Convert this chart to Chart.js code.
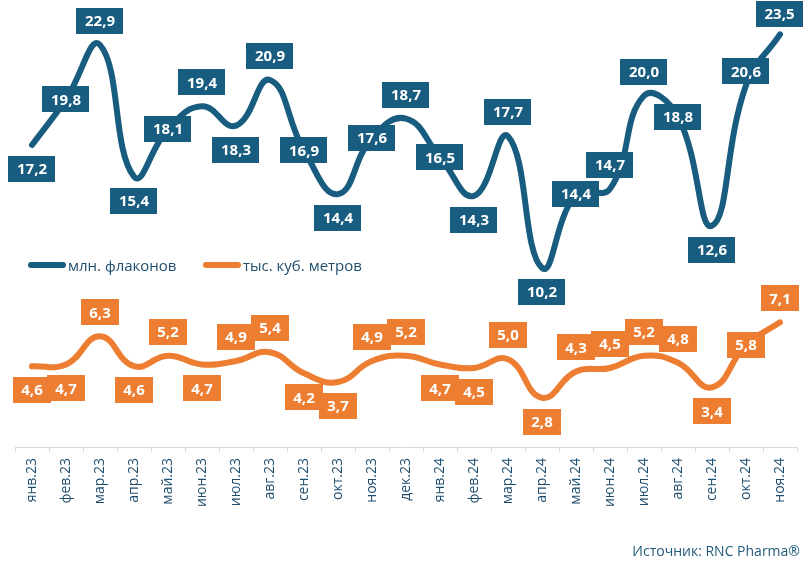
<!DOCTYPE html>
<html><head><meta charset="utf-8">
<script src="https://cdn.jsdelivr.net/npm/chart.js@4/dist/chart.umd.min.js"></script>
<style>
html,body{margin:0;padding:0;background:#fff;}
#wrap{position:relative;width:804px;height:566px;overflow:hidden;}
canvas{position:absolute;left:0;top:0;}
.leg{position:absolute;top:255px;font:15px 'Open Sans',sans-serif;color:#1f4e6e;display:flex;align-items:center;white-space:nowrap;}
.sw{display:inline-block;width:38px;height:6px;border-radius:3px;margin-right:2px;}
#src{position:absolute;right:4px;top:541px;font:14px 'Open Sans',sans-serif;color:#1f5a7a;white-space:nowrap;}
</style></head>
<body><div id="wrap"><canvas id="c" width="804" height="566"></canvas>
<div class="leg" id="leg1" style="left:28px"><span class="sw" style="background:#185c7f"></span><span id="l1"></span></div>
<div class="leg" id="leg2" style="left:203px"><span class="sw" style="background:#ed7d31"></span><span id="l2"></span></div>
<div id="src">Источник: RNC Pharma®</div>
</div>
<script>
const months = ['янв.23','фев.23','мар.23','апр.23','май.23','июн.23','июл.23','авг.23','сен.23','окт.23','ноя.23','дек.23',
                'янв.24','фев.24','мар.24','апр.24','май.24','июн.24','июл.24','авг.24','сен.24','окт.24','ноя.24'];
const seriesNames = ['млн. флаконов','тыс. куб. метров'];
const vials = [17.2,19.8,22.9,15.4,18.1,19.4,18.3,20.9,16.9,14.4,17.6,18.7,16.5,14.3,17.7,10.2,14.4,14.7,20.0,18.8,12.6,20.6,23.5];
const cubic = [4.6,4.7,6.3,4.6,5.2,4.7,4.9,5.4,4.2,3.7,4.9,5.2,4.7,4.5,5.0,2.8,4.3,4.5,5.2,4.8,3.4,5.8,7.1];
// label placement: a = above, b = below, c = centred on the point, u = slightly above centre
const vialsPlace = ['b','c','a','b','c','a','b','a','c','b','c','a','c','b','a','b','c','a','a','c','b','u','a'];
const cubicPlace = ['b','b','a','b','a','b','a','a','b','b','a','a','b','b','a','b','a','a','a','a','b','c','a'];

const BLUE = '#185c7f', ORANGE = '#ed7d31';
document.getElementById('l1').textContent = seriesNames[0];
document.getElementById('l2').textContent = seriesNames[1];

const fmt = v => v.toFixed(1).replace('.', ',');
const OFFS = { a: -24, b: 24, c: 0, u: -14 };

const boxLabels = {
  id: 'boxLabels',
  afterDatasetsDraw(chart) {
    const ctx = chart.ctx;
    ctx.save();
    ctx.font = 'bold 15px "Open Sans", sans-serif';
    ctx.textAlign = 'center';
    ctx.textBaseline = 'middle';
    chart.data.datasets.forEach((ds, di) => {
      const meta = chart.getDatasetMeta(di);
      const place = ds.place;
      meta.data.forEach((pt, i) => {
        const txt = fmt(ds.data[i]);
        const w = ctx.measureText(txt).width + 17;
        const h = 26;
        let cy = pt.y + OFFS[place[i]];
        let cx = pt.x;
        cx = Math.min(Math.max(cx, w / 2 + 1), chart.width - w / 2 - 1);
        cy = Math.max(cy, h / 2 + 1);
        ctx.fillStyle = ds.borderColor;
        ctx.fillRect(Math.round(cx - w / 2), Math.round(cy - h / 2), Math.round(w), h);
        ctx.fillStyle = '#ffffff';
        ctx.fillText(txt, cx, cy + 1);
      });
    });
    ctx.restore();
  }
};

new Chart(document.getElementById('c'), {
  type: 'line',
  data: {
    labels: months,
    datasets: [
      { label: seriesNames[0], data: vials, place: vialsPlace, borderColor: BLUE, backgroundColor: BLUE,
        borderWidth: 6, tension: 0.45, pointRadius: 0, borderCapStyle: 'round', borderJoinStyle: 'round', fill: false },
      { label: seriesNames[1], data: cubic, place: cubicPlace, borderColor: ORANGE, backgroundColor: ORANGE,
        borderWidth: 6, tension: 0.45, pointRadius: 0, borderCapStyle: 'round', borderJoinStyle: 'round', fill: false }
    ]
  },
  options: {
    responsive: false,
    animation: false,
    devicePixelRatio: 1,
    layout: { padding: { top: 8, left: 15, right: 7, bottom: 0 } },
    plugins: { legend: { display: false }, tooltip: { enabled: false } },
    scales: {
      x: {
        offset: true,
        grid: { offset: true, drawOnChartArea: false, drawTicks: true, tickLength: 5, color: '#d9d9d9', lineWidth: 1 },
        border: { color: '#d9d9d9', width: 1 },
        ticks: { minRotation: 90, maxRotation: 90, autoSkip: false, padding: 6,
                 font: { family: '"Open Sans", sans-serif', size: 14 }, color: '#1f4e6e' },
        afterFit(s) { s.height = 119; }
      },
      y: { display: false, min: 0, max: 25 }
    }
  },
  plugins: [boxLabels]
});
</script>
</body></html>
